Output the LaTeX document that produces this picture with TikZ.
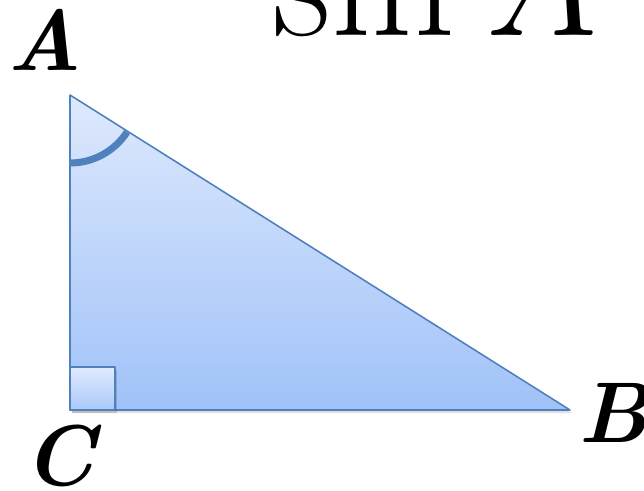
\documentclass[tikz,border=0pt]{standalone}
\usepackage{fontspec}
\usetikzlibrary{calc}
\definecolor{edgeblue}{RGB}{79,129,189}
\definecolor{filltop}{RGB}{222,233,253}
\definecolor{fillbot}{RGB}{160,194,248}
\definecolor{sqtop}{RGB}{225,235,254}
\definecolor{sqbot}{RGB}{170,200,249}

\begin{document}
\begin{tikzpicture}[x=0.02cm,y=-0.02cm,
  vlabel/.style={font=\fontsize{49}{49}\selectfont\bfseries\itshape,inner sep=0pt},
  side/.style={edgeblue,line width=0.9pt,line join=round}]
  \useasboundingbox (0,0) rectangle (644,490);
  \clip (0,0) rectangle (644,490);
  \coordinate (A) at (70,95);
  \coordinate (C) at (70,410);
  \coordinate (B) at (570,410);
  % title
  \node[font=\fontsize{93}{93}\selectfont,inner sep=0pt,anchor=base west] (title) at (272,35) {sin\,\textit{A}};
  % shadow and triangle
  \fill[black,opacity=0.12] ($(A)+(2,3)$) -- ($(B)+(2,3)$) -- ($(C)+(2,3)$) -- cycle;
  \shade[top color=filltop,bottom color=fillbot] (A) -- (B) -- (C) -- cycle;
  \draw[side] (A) -- (B) -- (C) -- cycle;
  % right angle box
  \fill[black,opacity=0.15] ($(C)+(2,3)$) rectangle ++(45,-43);
  \shade[top color=sqtop,bottom color=sqbot] (C) rectangle ++(45,-43);
  \draw[side] (C) rectangle ++(45,-43);
  % angle at A
  \draw[edgeblue,line width=4pt] (A) ++(90:68) arc[start angle=90,end angle=33,radius=68];
  % vertex labels
  \node[vlabel,anchor=base] (lA) at (45,70) {A};
  \node[vlabel,anchor=base] (lC) at (59,485) {C};
  \node[vlabel,anchor=base west] (lB) at (578,442) {B};
\end{tikzpicture}
\end{document}
